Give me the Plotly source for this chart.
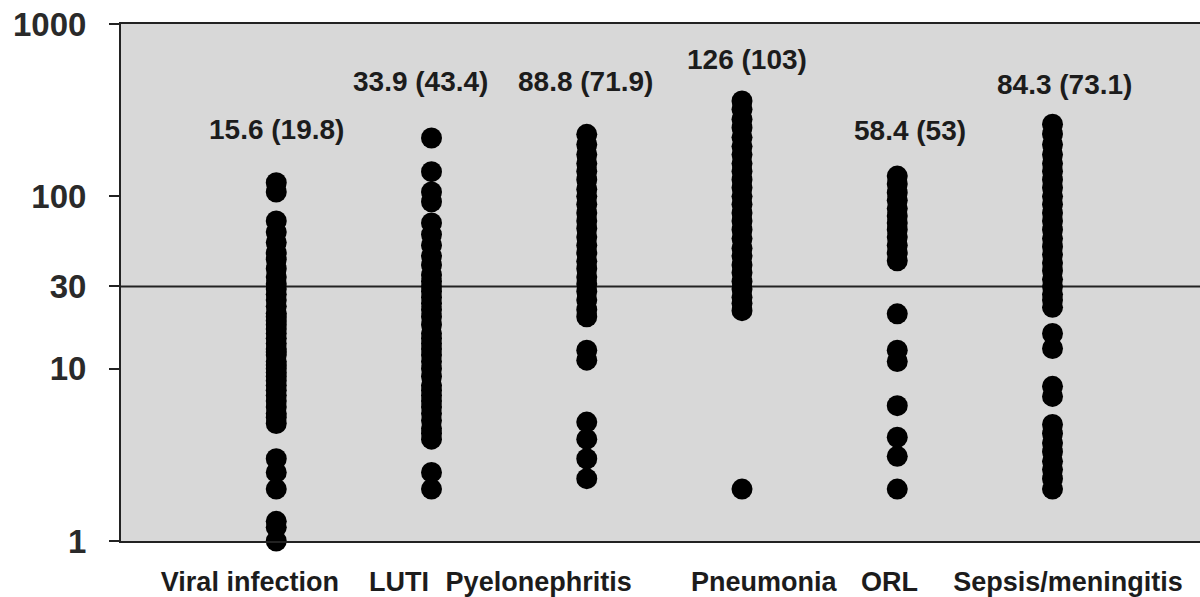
import math
import plotly.graph_objects as go

# Disease groups (x axis) and the individual values per group (log y axis)
categories = ["Viral infection", "LUTI", "Pyelonephritis", "Pneumonia", "ORL", "Sepsis/meningitis"]

viral = [120, 106, 72, 62, 54, 47, 43, 38, 34, 31, 29, 27, 25, 23, 21, 20, 19, 18, 17, 16,
         15, 14, 13, 12.5, 12, 11, 10.5, 10, 9.5, 9, 8.5, 8, 7.5, 7, 6.5, 6, 5.5, 5.2, 4.8,
         3.0, 2.5, 2.0, 1.3, 1.2, 1.0]
luti = [218, 139, 106, 93, 70, 60, 52, 45, 40, 35, 32, 30, 28, 26, 24, 22, 20, 18, 16, 15,
        14, 13, 12, 11, 10, 9, 8, 7.5, 7, 6.5, 6, 5.5, 5, 4.5, 4.2, 3.9, 2.5, 2.0]
pyelo = [229, 200, 175, 155, 140, 125, 110, 100, 90, 80, 72, 65, 58, 52, 47, 42, 38, 34, 31,
         28, 25, 22, 20, 12.8, 11.2, 4.9, 3.9, 3.0, 2.3]
pneumonia = [358, 320, 280, 250, 220, 195, 175, 155, 140, 125, 112, 100, 90, 80, 72, 64, 57,
             50, 45, 40, 36, 32, 29, 26, 24, 21.7, 2.0]
orl = [131, 118, 105, 95, 85, 77, 70, 64, 58, 52, 47, 42.3, 20.8, 12.8, 11.0, 6.1, 4.0, 3.1, 2.0]
sepsis = [262, 230, 200, 175, 155, 140, 125, 112, 100, 90, 80, 72, 64, 57, 51, 46, 41, 37, 33,
          30, 27, 25, 22.7, 16.0, 13.1, 7.9, 6.9, 4.75, 4.2, 3.7, 3.3, 2.9, 2.6, 2.3, 2.0]

groups = [viral, luti, pyelo, pneumonia, orl, sepsis]

# Summary text shown above each group
summary_labels = ["15.6 (19.8)", "33.9 (43.4)", "88.8 (71.9)", "126 (103)", "58.4 (53)", "84.3 (73.1)"]

threshold = 30
y_tick_values = [1, 10, 30, 100, 1000]

# ---- layout constants ----
x_range = [-1, 5.95]
label_dx = [-0.17, -0.21, -0.31, 0.14, -0.05, 0.10]        # category label offsets
summary_dx = [0.0, -0.07, -0.01, 0.03, 0.08, 0.08]          # summary text offsets
summary_y = [243, 461, 461, 619, 240, 443]                  # summary text heights (data units)

FONT = "Liberation Sans, Arial, Helvetica, sans-serif"
INK = "#1c1c1c"

fig = go.Figure()

# threshold line across the plot
fig.add_trace(go.Scatter(
    x=x_range, y=[threshold, threshold], mode="lines",
    line=dict(color="#222222", width=2), hoverinfo="skip", showlegend=False,
))

for i, vals in enumerate(groups):
    fig.add_trace(go.Scatter(
        x=[i] * len(vals), y=vals, mode="markers",
        marker=dict(color="#000000", size=21, line=dict(width=0)),
        cliponaxis=False, showlegend=False, name=categories[i],
    ))

for i, txt in enumerate(summary_labels):
    fig.add_annotation(
        x=i + summary_dx[i], y=math.log10(summary_y[i]), xref="x", yref="y",
        text=f"<b>{txt}</b>", showarrow=False,
        font=dict(family=FONT, size=28, color=INK),
    )

fig.update_layout(
    width=1200, height=597,
    margin=dict(l=121, r=0, t=24, b=56),
    paper_bgcolor="white",
    plot_bgcolor="#d8d8d8",
    showlegend=False,
    xaxis=dict(
        range=x_range,
        tickvals=[i + d for i, d in enumerate(label_dx)],
        ticktext=[f"<b>{c}</b>" for c in categories],
        tickfont=dict(family=FONT, size=27, color=INK),
        ticks="", ticklabelstandoff=16,
        showgrid=False, zeroline=False,
        showline=True, linecolor="#222222", linewidth=2, mirror=True,
    ),
    yaxis=dict(
        type="log", range=[0, 3],
        tickvals=y_tick_values,
        ticktext=[f"<b>{v}</b>" for v in y_tick_values],
        tickfont=dict(family=FONT, size=33, color="#2a2a2a"),
        ticks="outside", ticklen=10, tickwidth=2, tickcolor="#222222",
        ticklabelstandoff=16,
        showgrid=False, zeroline=False,
        showline=True, linecolor="#222222", linewidth=2,
    ),
)

fig.write_html("out.html")
